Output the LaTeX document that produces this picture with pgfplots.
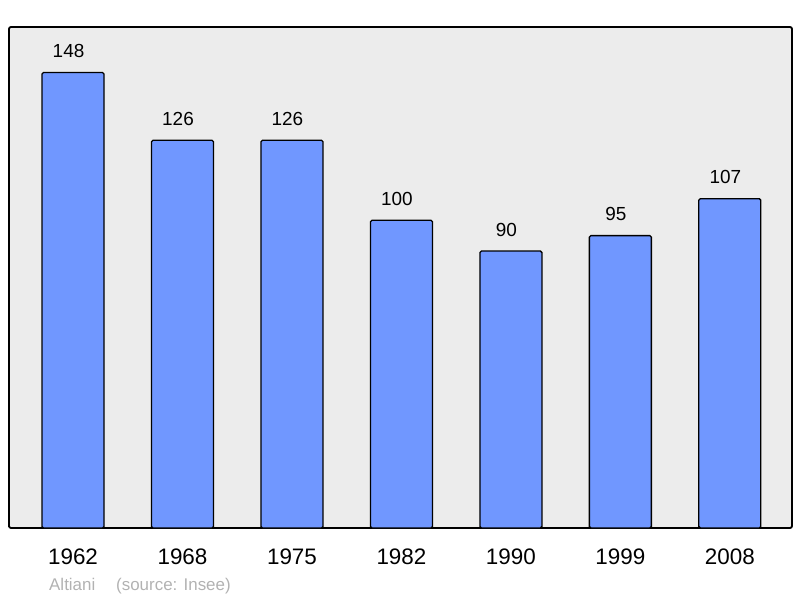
\documentclass[border=0pt]{standalone}
\usepackage{fontspec}
\setmainfont{Liberation Sans}
\usepackage{pgfplots}
\pgfplotsset{compat=1.18}

\definecolor{barBlue}{RGB}{112,151,255}
\definecolor{panelGray}{RGB}{236,236,236}
\definecolor{noteGray}{RGB}{178,178,178}

\begin{document}
\begin{tikzpicture}
\useasboundingbox (-9bp,-70bp) rectangle (791bp,528bp);
\begin{axis}[
    at={(0,0)}, anchor=south west,
    scale only axis,
    width=783bp,
    height=501bp,
    xmin=-0.585, xmax=6.568,
    ymin=0, ymax=162.8,
    ybar,
    bar width=62bp,
    bar shift=0pt,
    axis background/.style={fill=panelGray},
    axis line style={line width=1.8bp, rounded corners=2bp},
    xtick={0,1,2,3,4,5,6},
    xticklabels={1962,1968,1975,1982,1990,1999,2008},
    ytick=\empty,
    major tick length=0pt,
    xticklabel style={font=\fontsize{22.5}{24}\selectfont, anchor=base, yshift=-36bp, inner sep=0pt},
    nodes near coords,
    every node near coord/.append style={font=\fontsize{19}{20}\selectfont, inner sep=0pt, yshift=14bp, xshift=-4.5bp},
    /pgf/number format/assume math mode=true,
    clip=false,
]
\addplot[draw=black, line width=1.3bp, fill=barBlue, rounded corners=1.5bp] coordinates {
    (0,148)
    (1,126)
    (2,126)
    (3,100)
    (4,90)
    (5,95)
    (6,107)
};
\end{axis}
\node[anchor=base west, inner sep=0pt, text=noteGray, font=\fontsize{17}{18}\selectfont] at (40bp,-62bp) {Altiani};
\node[anchor=base west, inner sep=0pt, text=noteGray, font=\fontsize{17}{18}\selectfont] at (107bp,-62bp) {(source: Insee)};
\end{tikzpicture}
\end{document}
